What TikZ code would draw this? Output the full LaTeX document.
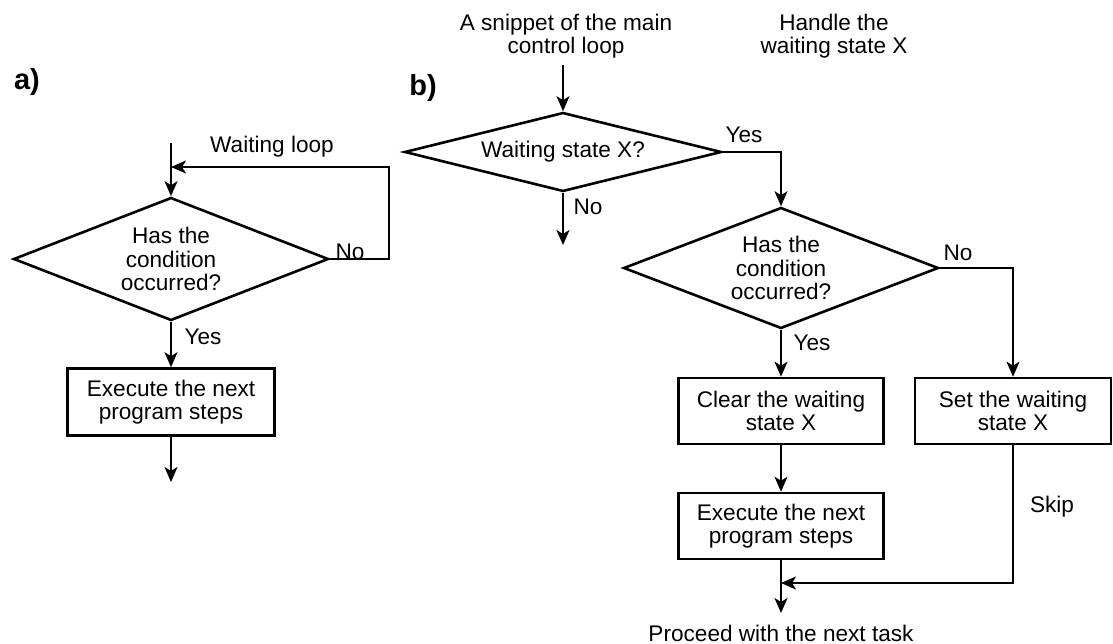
\documentclass[tikz,border=0pt]{standalone}
\usepackage{fontspec}
\setmainfont{Liberation Sans}
\usetikzlibrary{shapes.geometric,arrows.meta}

\begin{document}
\begin{tikzpicture}[x=1pt,y=-1pt,
        txt/.style={font=\fontsize{22.6}{23.5}\selectfont,align=center,inner sep=0pt},
        tag/.style={font=\fontsize{29}{30}\selectfont\bfseries,inner sep=0pt},
        decision/.style={txt,draw,diamond,aspect=2.58,line width=2.6pt,minimum width=315pt,minimum height=122pt},
        process/.style={txt,draw,rectangle,line width=2.6pt,minimum width=205pt,minimum height=66pt},
        flow/.style={line width=1.8pt,-{Stealth[length=15pt,width=13pt,inset=4pt]}}]
        \useasboundingbox (0,0) rectangle (1113,644);
        % a)
        \node[tag] (taga) at (27,82) {a)};
        \node[decision,minimum height=123pt] (conda) at (171,259) {Has the\\condition\\occurred?};
        \node[process,minimum width=207pt,minimum height=67pt] (execa) at (171,402) {Execute the next\\program steps};
        \coordinate (atop) at (171,143);
        \coordinate (aloop) at (171,167);
        \coordinate (aend) at (171,482);
        \draw[flow] (atop) -- (conda.north);
        \draw[flow] (conda.east) -- ++(59,0) |- (aloop);
        \draw[flow] (conda.south) -- (execa.north);
        \draw[flow] (execa.south) -- (aend);
        \node[txt] (loopa) at (272,147) {Waiting loop};
        \node[txt] (noa) at (350,252) {No};
        \node[txt] (yesa) at (203,337) {Yes};
        % b)
        \node[tag] (tagb) at (423,88) {b)};
        \node[txt] (snippet) at (566,36) {A snippet of the main\\control loop};
        \node[txt] (handle) at (834,36) {Handle the\\waiting state X};
        \node[decision,aspect=4,minimum width=317pt,minimum height=79pt] (wait) at (563,152) {Waiting state X?};
        \node[decision,minimum height=121pt] (condb) at (781,268) {Has the\\condition\\occurred?};
        \node[process] (clear) at (781,411) {Clear the waiting\\state X};
        \node[process] (execb) at (781,526) {Execute the next\\program steps};
        \node[process,minimum width=196pt] (set) at (1013,411) {Set the waiting\\state X};
        \node[txt] (proceed) at (781,633) {Proceed with the next task};
        \coordinate (bstart) at (563,65);
        \coordinate (bno) at (563,245);
        \coordinate (merge) at (781,583);
        \coordinate (bend) at (781,613);
        \draw[flow] (bstart) -- (wait.north);
        \draw[flow] (wait.south) -- (bno);
        \draw[flow] (wait.east) -| (condb.north);
        \draw[flow] (condb.east) -| (set.north);
        \draw[flow] (condb.south) -- (clear.north);
        \draw[flow] (clear.south) -- (execb.north);
        \draw[flow] (execb.south) -- (bend);
        \draw[flow] (set.south) |- (merge);
        \node[txt] (yesb) at (744,135) {Yes};
        \node[txt] (nob) at (588,207) {No};
        \node[txt] (noc) at (958,253) {No};
        \node[txt] (yesc) at (812,343) {Yes};
        \node[txt] (skip) at (1052,507) {Skip};
\end{tikzpicture}
\end{document}
